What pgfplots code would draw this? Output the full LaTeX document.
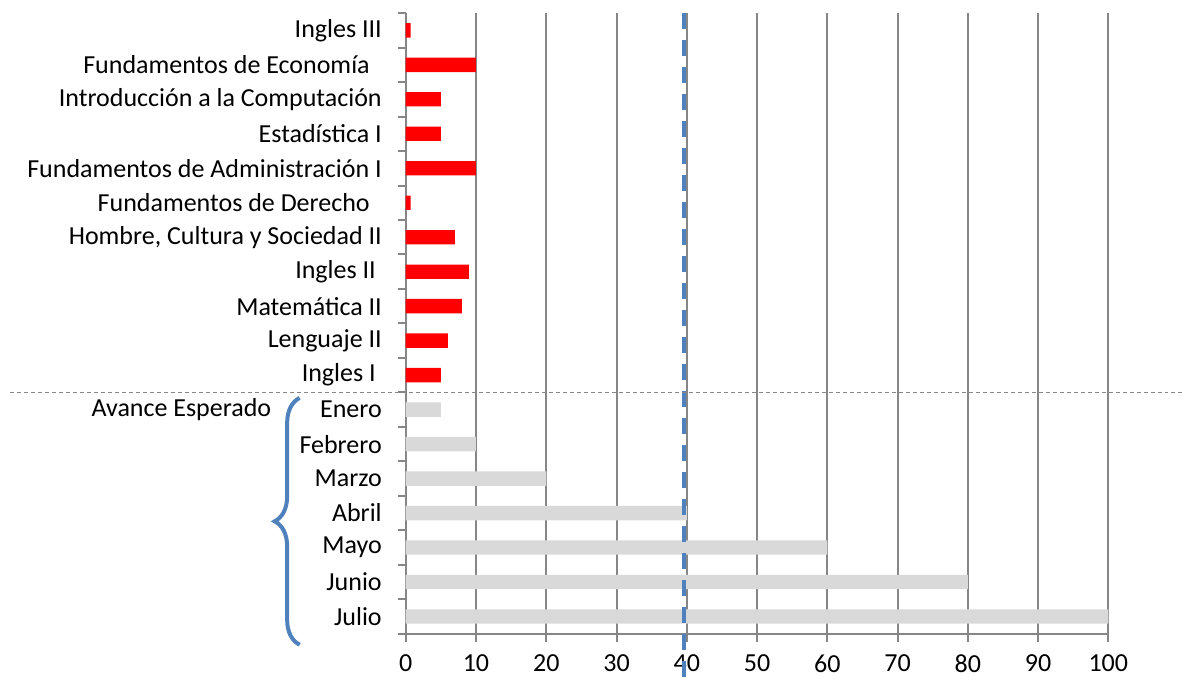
\documentclass[border=0pt]{standalone}
\usepackage{fontspec}
\setmainfont{Carlito}
\usepackage{pgfplots}
\pgfplotsset{compat=1.18}
\usetikzlibrary{decorations.pathreplacing}
\definecolor{barred}{RGB}{255,0,0}
\definecolor{bargray}{RGB}{217,217,217}
\definecolor{gridgray}{RGB}{134,134,134}
\definecolor{linblue}{RGB}{79,129,189}

\begin{document}
\begin{tikzpicture}
\begin{axis}[
  scale only axis, width=351.5bp, height=310.5bp,
  xmin=0, xmax=100, ymin=-0.5, ymax=17.5,
  xtick={0,10,...,100},
  ytick={-0.5,0.5,...,17.5},
  y tick label as interval,
  yticklabels={Julio,Junio,Mayo,Abril,Marzo,Febrero,Enero,
    Ingles I\kern3bp\relax,Lenguaje II,Matemática II,Ingles II\kern3bp\relax,
    {Hombre, Cultura y Sociedad II},Fundamentos de Derecho\kern6bp\relax,
    Fundamentos de Administración I,Estadística I,Introducción a la Computación,
    Fundamentos de Economía\kern6bp\relax,Ingles III},
  axis x line*=bottom, axis y line*=left,
  axis line style={-, draw=gridgray, line width=1bp},
  tick align=outside, major tick length=4bp,
  tick style={draw=gridgray, line width=1bp},
  xmajorgrids, grid style={draw=gridgray, line width=1bp},
  bar width=7.2bp, bar shift=0pt,
  ticklabel style={font=\fontsize{13bp}{15bp}\selectfont},
  /pgf/number format/assume math mode=true,
  yticklabel style={xshift=-4.5bp},
  xticklabel style={yshift=-3bp},
  clip=false,
]
% materias (rojo)
\addplot[xbar, fill=barred, draw=none] coordinates {
  (5,7) (6,8) (8,9) (9,10) (7,11) (0.7,12) (10,13) (5,14) (5,15) (10,16) (0.7,17)};
% avance esperado (gris)
\addplot[xbar, fill=bargray, draw=none] coordinates {
  (100,0) (80,1) (60,2) (40,3) (20,4) (10,5) (5,6)};
% linea de referencia
\addplot[linblue, line width=2bp, dash pattern=on 8bp off 5.5bp] coordinates {(39.6,17.5) (39.6,-1.83)};

\draw[gridgray, line width=0.5bp, dash pattern=on 2bp off 1.5bp]
  (axis cs:-56.3,6.5) -- (axis cs:110.7,6.5);
\draw[linblue, line width=2bp, decorate, decoration={brace, amplitude=12.5bp, aspect=0.5}]
  (axis cs:-15.1,-0.82) -- (axis cs:-15.1,6.34);
\node[anchor=east, inner sep=0pt, font=\fontsize{13bp}{15bp}\selectfont]
  at (axis cs:-19.1,5.99) {Avance Esperado};
\path (axis cs:-57.75,17.88) rectangle (axis cs:110.67,-1.83);
\end{axis}
\end{tikzpicture}
\end{document}
